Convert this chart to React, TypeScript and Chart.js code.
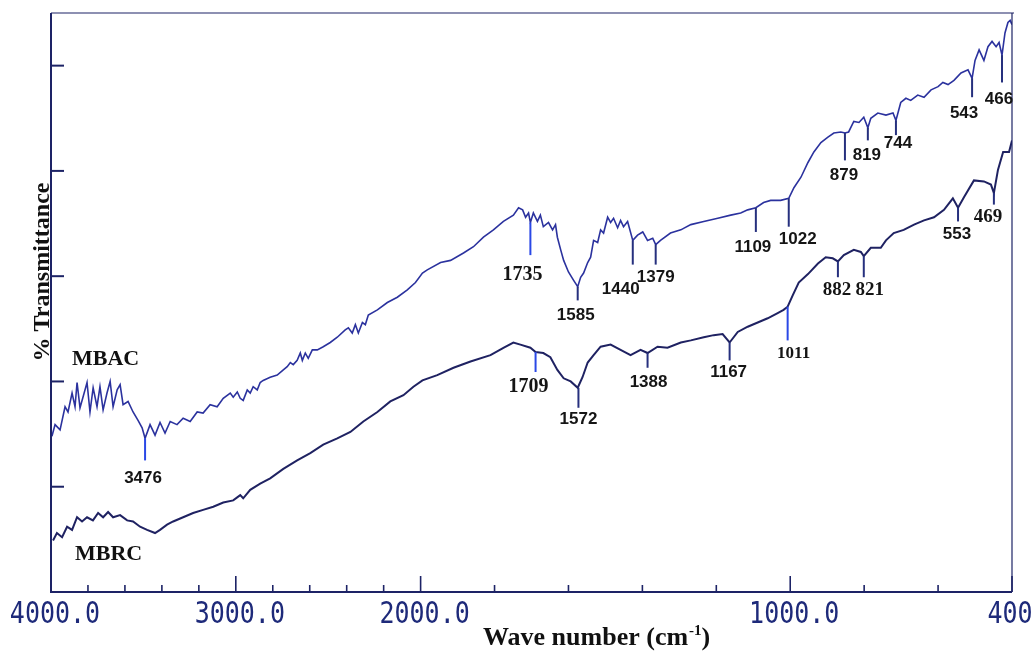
import React, { useEffect, useRef } from "react";
import { Chart, registerables } from "chart.js";
Chart.register(...registerables);

// ---------- DATA ----------
const mbacWn = [3995,3978,3951,3924,3908,3886,3870,3859,3843,3827,3805,3789,3772,3751,3735,3718,3697,3680,3664,3642,3626,3610,3583,3556,3529,3507,3491,3464,3437,3410,3383,3355,3318,3285,3247,3209,3177,3139,3101,3068,
  3030,3014,2992,2976,2960,2938,2922,2906,2884,2868,2852,2814,2776,2743,2722,2705,2689,2668,2651,2640,2624,2608,2586,2559,2527,2489,2451,2408,2391,2370,2353,2337,2315,2299,2283,2234,2180,2126,2072,2028,1995,1982,
  1946,1919,1884,1857,1830,1803,1776,1749,1735,1724,1716,1708,1703,1695,1684,1676,1668,1654,1643,1635,1630,1621,1613,1600,1586,1575,1567,1559,1548,1540,1532,1521,1513,1505,1494,1486,1478,1467,1459,1451,1440,1426,1413,1399,1386,1372,1364,1351,1324,1296,1269,1234,1196,1161,1134,1115,1093,1072,1053,1026,1004,990,971,952,936,917,898,882,863,852,842,828,814,801,790,782,763,741,722,714,701,687,674,655,638,619,600,587,573,557,538,519,508,500,489,476,465,454,443,435,427,419,411,405,400];
const mbacT = [14.8,15.9,15.4,17.6,17.1,18.9,17.6,19.9,17.5,18.5,19.9,17.1,19.4,17.6,19.5,17.3,18.9,20.0,17.6,19.2,19.7,17.8,18.1,17.1,16.3,15.6,14.6,15.9,14.9,16.1,15.1,16.2,15.9,16.5,16.2,17.1,17.0,17.8,17.6,18.4,
  18.9,18.5,19.0,18.4,18.2,19.2,18.9,19.5,19.2,19.9,20.1,20.4,20.6,21.1,21.4,21.8,21.6,22.0,22.7,22.0,22.7,22.2,23.0,23.0,23.3,23.7,24.2,24.9,25.1,24.6,25.4,24.6,25.6,25.4,26.3,26.8,27.5,28.0,28.7,29.4,30.3,30.6,
  31.3,31.5,32.2,32.8,33.7,34.4,35.2,35.8,36.5,36.3,35.6,36.0,35.1,36.0,35.2,35.8,34.7,35.1,34.4,34.9,33.7,32.5,31.5,30.4,29.6,29.0,29.9,30.3,31.3,31.8,33.4,33.2,34.4,34.1,35.6,35.1,35.5,34.6,35.3,34.7,35.2,33.4,33.9,34.2,33.4,33.6,33.0,33.4,34.1,34.4,34.9,35.2,35.5,35.8,36.0,36.3,36.5,37.0,37.2,37.2,37.4,38.4,39.4,40.8,41.8,42.7,43.2,43.6,43.7,43.6,43.7,44.7,44.6,45.1,44.1,45.0,45.5,45.3,45.5,44.8,46.5,46.9,46.7,47.2,47.0,47.7,48.0,48.4,48.2,48.6,49.3,49.6,48.8,50.5,51.5,50.5,51.8,52.3,51.8,52.2,51.0,53.1,54.1,54.3,53.9];

const mbrcWn = [3989,3968,3940,3913,3886,3859,3832,3805,3773,3745,3718,3691,3664,3626,3588,3556,3518,3480,3437,3410,3372,3339,3285,3231,3177,3122,3068,3014,2976,2960,2922,2868,2814,2743,2668,2597,2527,2451,2380,2310,2234,2164,2093,2039,1995,1955,1911,1865,1811,1776,1749,1730,1703,1689,1668,1649,1630,1613,1594,1575,1562,1548,1532,1513,1486,1459,1432,1405,1386,1359,1332,1296,1269,1234,1207,1183,1164,1142,1115,1088,1061,1034,1018,1007,993,977,952,925,904,885,871,855,828,809,801,782,755,741,720,693,665,638,611,584,560,546,530,503,476,457,449,438,424,408,400];
const mbrcT = [4.9,5.6,5.2,6.2,5.9,7.1,6.7,7.1,6.8,7.5,7.1,7.6,7.1,7.3,6.8,6.7,6.2,5.9,5.6,5.9,6.4,6.7,7.1,7.5,7.8,8.1,8.5,8.7,9.2,8.9,9.7,10.3,10.8,11.7,12.5,13.2,14.0,14.6,15.2,16.2,17.1,18.1,18.7,19.5,20.1,20.6,21.3,21.9,22.5,23.2,23.7,23.5,23.2,22.8,22.7,22.3,21.1,20.3,20.0,19.4,20.4,21.8,22.5,23.3,23.5,23.0,22.5,23.0,22.7,23.3,23.2,23.7,23.9,24.2,24.4,24.5,23.7,24.7,25.2,25.6,26.0,26.5,26.8,27.1,28.2,29.4,30.2,31.2,31.8,31.7,31.4,32.0,32.5,32.3,31.9,32.7,32.7,33.4,34.1,34.4,34.9,35.3,35.6,36.3,37.4,36.5,37.5,39.1,39.0,38.7,37.9,40.1,41.8,41.8,42.9];

const seriesNames = ["MBAC", "MBRC"];

// peak annotations (text, position on the axis, top/bottom of the marker line)
const peakText = ["3476","1735","1585","1440","1379","1109","1022","879","819","744","543","466","1709","1572","1388","1167","1011","882","821","553","469"];
const peakWn = [3491,1703,1575,1426,1364,1093,1004,852,790,714,508,427,1689,1573,1386,1164,1007,871,801,546,449];
const peakTop = [14.6,35.1,29.0,33.4,33.0,36.5,37.4,43.6,44.1,44.8,48.8,51.0,22.8,19.4,22.7,23.7,27.1,31.4,31.9,36.5,37.9];
const peakBottom = [12.5,32.0,27.7,31.1,31.1,34.2,34.7,41.0,42.9,43.4,47.0,48.4,20.9,17.5,21.3,22.0,23.9,29.9,29.9,35.2,36.8];

const xMajorTicks = [4000, 3000, 2000, 1000, 400];
const xTickLabels = ["4000.0", "3000.0", "2000.0", "1000.0", "400"];
const xMinorTicks = [3800,3600,3400,3200,2800,2600,2400,2200,1800,1600,1400,1200,800,600];
const yTicks = [10, 20, 30, 40, 50];

// ---------- STYLE (label placement) ----------
const peakSerif = [false,true,false,false,false,false,false,false,false,false,false,false,true,false,false,false,true,true,true,false,true];
const peakBright = [true,true,false,false,false,false,false,false,false,false,false,false,true,false,false,false,true,false,false,false,false];
const peakDx = [-2,-8,-2,-12,0,-3,9,-1,-1,2,-8,-3,-7,0,1,-1,6,-1,6,-1,-6];
const peakDy = [18,20,15,25,13,15,13,15,15,8,16,17,15,12,15,12,13,13,13,13,12];
const peakSize = [17,20,17,17,17,17,17,17,17,17,17,17,20,17,17,17,17,19,19,17,19];

// split axis: 4000-2000 compressed, 2000-400 expanded x2
const toPos = (wn: number) => (wn >= 2000 ? (4000 - wn) / 2 : 1000 + (2000 - wn));

const AXIS = "#1d2366";

const decorPlugin = {
  id: "decor",
  beforeDraw(chart: any) {
    const ctx = chart.ctx;
    ctx.save();
    ctx.fillStyle = "#ffffff";
    ctx.fillRect(0, 0, chart.width, chart.height);
    ctx.restore();
  },
  afterDatasetsDraw(chart: any) {
    const ctx = chart.ctx;
    const xs = chart.scales.x;
    const ys = chart.scales.y;
    const { left, right, top, bottom } = chart.chartArea;
    ctx.save();

    // frame
    ctx.strokeStyle = AXIS;
    ctx.lineWidth = 1.2;
    ctx.beginPath();
    ctx.moveTo(left, top);
    ctx.lineTo(right + 2, top);
    ctx.moveTo(right, top);
    ctx.lineTo(right, bottom);
    ctx.stroke();
    ctx.lineWidth = 2;
    ctx.beginPath();
    ctx.moveTo(left, top);
    ctx.lineTo(left, bottom);
    ctx.lineTo(right, bottom);
    ctx.stroke();

    // y ticks (inward)
    ctx.lineWidth = 2;
    yTicks.forEach((v) => {
      const y = ys.getPixelForValue(v);
      ctx.beginPath();
      ctx.moveTo(left, y);
      ctx.lineTo(left + 13, y);
      ctx.stroke();
    });

    // x ticks (inward)
    ctx.lineWidth = 1.6;
    xMinorTicks.forEach((wn) => {
      const x = xs.getPixelForValue(toPos(wn));
      ctx.beginPath();
      ctx.moveTo(x, bottom);
      ctx.lineTo(x, bottom - 7);
      ctx.stroke();
    });
    xMajorTicks.forEach((wn) => {
      const x = xs.getPixelForValue(toPos(wn));
      ctx.beginPath();
      ctx.moveTo(x, bottom);
      ctx.lineTo(x, bottom - 16);
      ctx.stroke();
    });

    // x tick labels
    ctx.fillStyle = "#1e2a7a";
    ctx.textAlign = "center";
    ctx.textBaseline = "middle";
    ctx.font = "25px 'DejaVu Sans Mono'";
    xMajorTicks.forEach((wn, i) => {
      let x = xs.getPixelForValue(toPos(wn)) + 4;
      if (i === xMajorTicks.length - 1) x -= 6;
      ctx.save();
      ctx.translate(x, bottom + 23);
      ctx.scale(1, 1.2);
      ctx.fillText(xTickLabels[i], 0, 0);
      ctx.restore();
    });

    // axis titles
    ctx.fillStyle = "#111111";
    ctx.textBaseline = "alphabetic";
    ctx.textAlign = "left";
    ctx.font = "bold 26px 'Liberation Serif'";
    const t1 = "Wave number (cm";
    let tx = 483;
    const ty = 645;
    ctx.fillText(t1, tx, ty);
    tx += ctx.measureText(t1).width;
    ctx.font = "bold 15px 'Liberation Serif'";
    ctx.fillText("-1", tx + 1, ty - 10);
    tx += ctx.measureText("-1").width + 1;
    ctx.font = "bold 26px 'Liberation Serif'";
    ctx.fillText(")", tx, ty);

    ctx.save();
    ctx.translate(49, 272);
    ctx.rotate(-Math.PI / 2);
    ctx.textAlign = "center";
    ctx.font = "bold 24px 'Liberation Serif'";
    ctx.fillText("% Transmittance", 0, 0);
    ctx.restore();

    // series labels
    ctx.font = "bold 22px 'Liberation Serif'";
    ctx.textAlign = "left";
    ctx.fillText(seriesNames[0], 72, 365);
    ctx.fillText(seriesNames[1], 75, 560);

    // peaks
    peakText.forEach((txt, i) => {
      const x = xs.getPixelForValue(toPos(peakWn[i]));
      const y1 = ys.getPixelForValue(peakTop[i]);
      const y2 = ys.getPixelForValue(peakBottom[i]);
      ctx.strokeStyle = peakBright[i] ? "#2a48e6" : "#26307e";
      ctx.lineWidth = 2;
      ctx.beginPath();
      ctx.moveTo(x, y1);
      ctx.lineTo(x, y2);
      ctx.stroke();
      ctx.fillStyle = "#151515";
      ctx.textAlign = "center";
      ctx.textBaseline = "middle";
      ctx.font = peakSerif[i]
        ? `bold ${peakSize[i]}px 'Liberation Serif'`
        : `bold ${peakSize[i]}px 'Liberation Sans'`;
      ctx.fillText(txt, x + peakDx[i], y2 + peakDy[i]);
    });

    ctx.restore();
  },
};

export default function App() {
  const ref = useRef<HTMLCanvasElement | null>(null);
  useEffect(() => {
    if (!ref.current) return;
    const chart = new Chart(ref.current, {
      type: "line",
      data: {
        datasets: [
          {
            label: seriesNames[0],
            data: mbacWn.map((w, i) => ({ x: toPos(w), y: mbacT[i] })),
            borderColor: "#2b329e",
            borderWidth: 1.6,
            pointRadius: 0,
            tension: 0,
            fill: false,
          },
          {
            label: seriesNames[1],
            data: mbrcWn.map((w, i) => ({ x: toPos(w), y: mbrcT[i] })),
            borderColor: "#1f2262",
            borderWidth: 2,
            pointRadius: 0,
            tension: 0,
            fill: false,
          },
        ],
      },
      options: {
        animation: false,
        responsive: false,
        devicePixelRatio: 1,
        parsing: false as any,
        layout: { padding: { left: 51, right: 22, top: 13, bottom: 61 } },
        scales: {
          x: { type: "linear", min: 0, max: 2600, display: false },
          y: { type: "linear", min: 0, max: 55, display: false },
        },
        plugins: { legend: { display: false }, tooltip: { enabled: false } },
      },
      plugins: [decorPlugin],
    });
    return () => chart.destroy();
  }, []);
  return (
    <div style={{ position: "fixed", left: 0, top: 0, width: 1034, height: 653, background: "#fff" }}>
      <canvas ref={ref} width={1034} height={653} style={{ display: "block" }} />
    </div>
  );
}
